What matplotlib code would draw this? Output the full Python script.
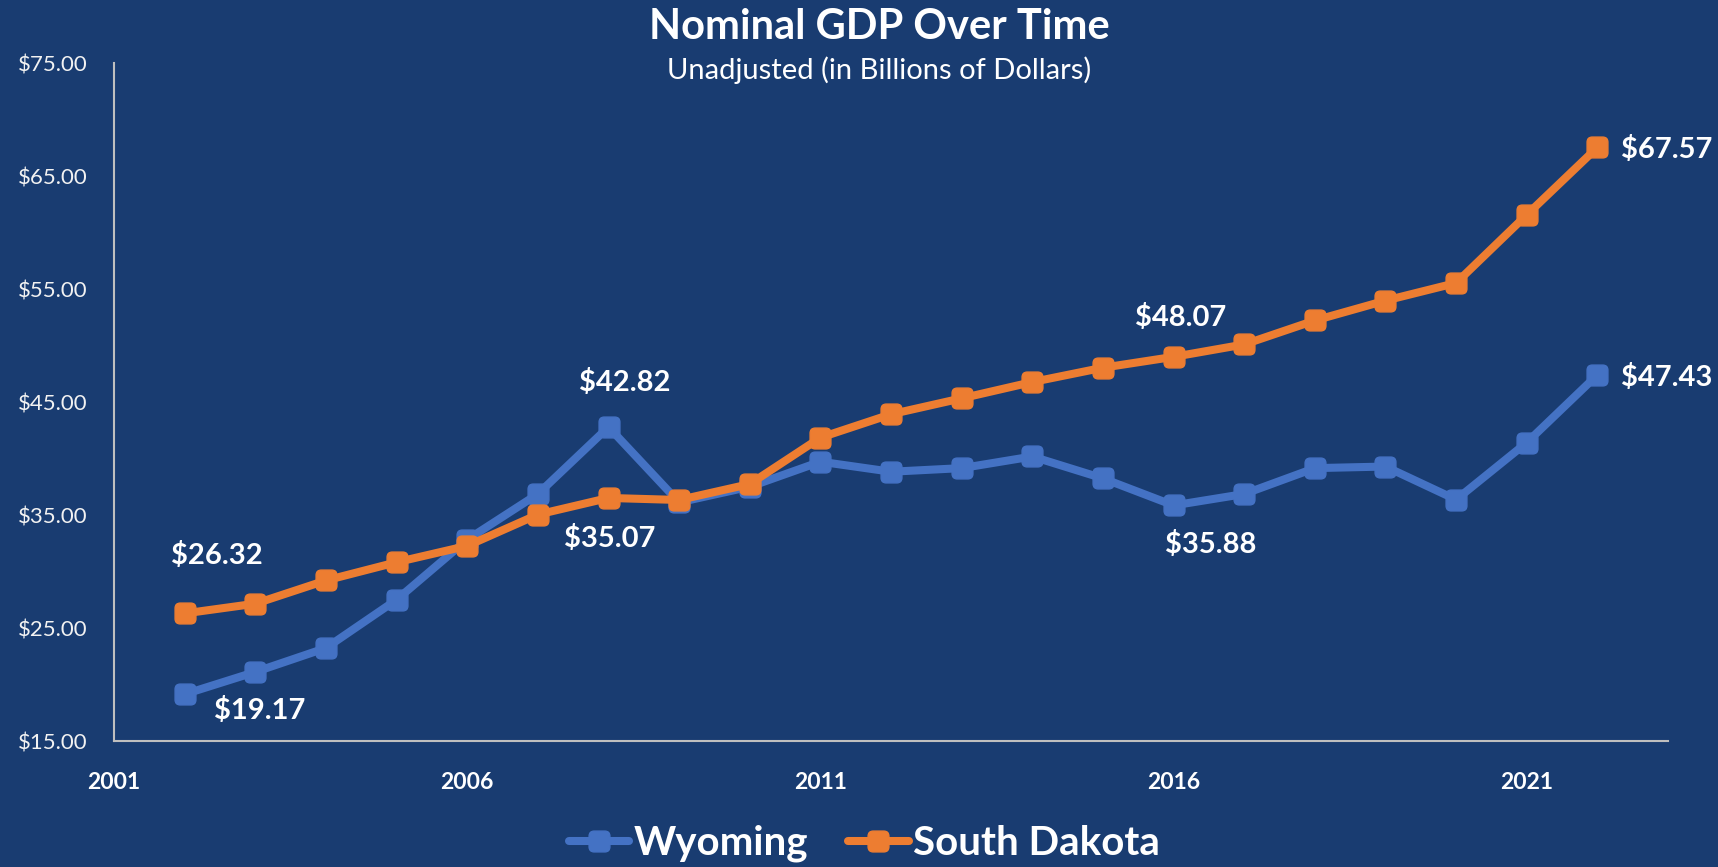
import matplotlib.pyplot as plt
import matplotlib.ticker as mticker
from matplotlib.patches import BoxStyle

plt.rcParams['font.family'] = ['Lato', 'DejaVu Sans']

# dados (bilhões de dólares)
anos = list(range(2002, 2023))
wyoming = [19.17, 21.14, 23.26, 27.53, 32.85, 36.89, 42.82, 36.15, 37.53, 39.75, 38.86,
           39.18, 40.21, 38.27, 35.88, 36.89, 39.18, 39.32, 36.39, 41.44, 47.43]
south_dakota = [26.32, 27.18, 29.24, 30.85, 32.30, 35.07, 36.54, 36.36, 37.77, 41.88, 43.95,
                45.36, 46.80, 48.07, 49.03, 50.13, 52.25, 54.01, 55.57, 61.60, 67.57]

fundo = '#193C71'
azul = '#4472C4'
laranja = '#ED7D31'

# marcador quadrado com cantos arredondados
quadrado = BoxStyle.Round(pad=0, rounding_size=0.25)(-0.5, -0.5, 1, 1, 1)

fig = plt.figure(figsize=(17.18, 8.67), dpi=100, facecolor=fundo)
ax = fig.add_axes([0.0664, 0.145, 0.9045, 0.7818])
ax.set_facecolor(fundo)

ax.plot(anos, wyoming, color=azul, lw=5.8, marker=quadrado, ms=15, label='Wyoming',
        solid_joinstyle='round', solid_capstyle='round')
ax.plot(anos, south_dakota, color=laranja, lw=5.8, marker=quadrado, ms=15, label='South Dakota',
        solid_joinstyle='round', solid_capstyle='round')

ax.set_xlim(2001, 2023)
ax.set_ylim(15, 75)
ax.set_xticks([2001, 2006, 2011, 2016, 2021])
ax.set_yticks(range(15, 76, 10))
ax.yaxis.set_major_formatter(mticker.FuncFormatter(lambda v, p: f'${v:.2f}'))

ax.tick_params(axis='x', length=0, pad=22, colors='white', labelsize=16.5)
ax.tick_params(axis='y', length=0, pad=19, colors='#F2F2F2', labelsize=16)
for t in ax.get_xticklabels():
    t.set_fontweight('bold')

for lado in ['top', 'right']:
    ax.spines[lado].set_visible(False)
for lado in ['left', 'bottom']:
    ax.spines[lado].set_color('#BFBFBF')
    ax.spines[lado].set_linewidth(1.5)

# rótulos de dados (posicionados como no original)
rotulos = [
    (wyoming, 0, (54, -11.5), 'center'),
    (south_dakota, 0, (23, 42), 'center'),
    (wyoming, 6, (12, 32), 'center'),
    (south_dakota, 5, (52, -17), 'center'),
    (south_dakota, 13, (56, 36), 'center'),
    (wyoming, 14, (27, -28), 'center'),
    (south_dakota, 20, (17, -1.5), 'left'),
    (wyoming, 20, (17, -1.5), 'left'),
]
for serie, i, desloc, ha in rotulos:
    ax.annotate(f'${serie[i]:.2f}', xy=(anos[i], serie[i]), xytext=desloc,
                textcoords='offset points', ha=ha, va='center',
                color='white', fontsize=21, fontweight='bold')

fig.text(0.512, 0.969, 'Nominal GDP Over Time', ha='center', va='center',
         color='white', fontsize=30, fontweight='bold')
fig.text(0.512, 0.919, 'Unadjusted (in Billions of Dollars)', ha='center', va='center',
         color='white', fontsize=21)

leg = fig.legend(loc='center', bbox_to_anchor=(0.503, 0.027), ncol=2, frameon=False,
                 prop={'size': 29, 'weight': 'bold'}, handlelength=1.5,
                 handletextpad=0.1, columnspacing=1.0)
for t in leg.get_texts():
    t.set_color('white')

plt.savefig('out.png', dpi=100, facecolor=fundo)
